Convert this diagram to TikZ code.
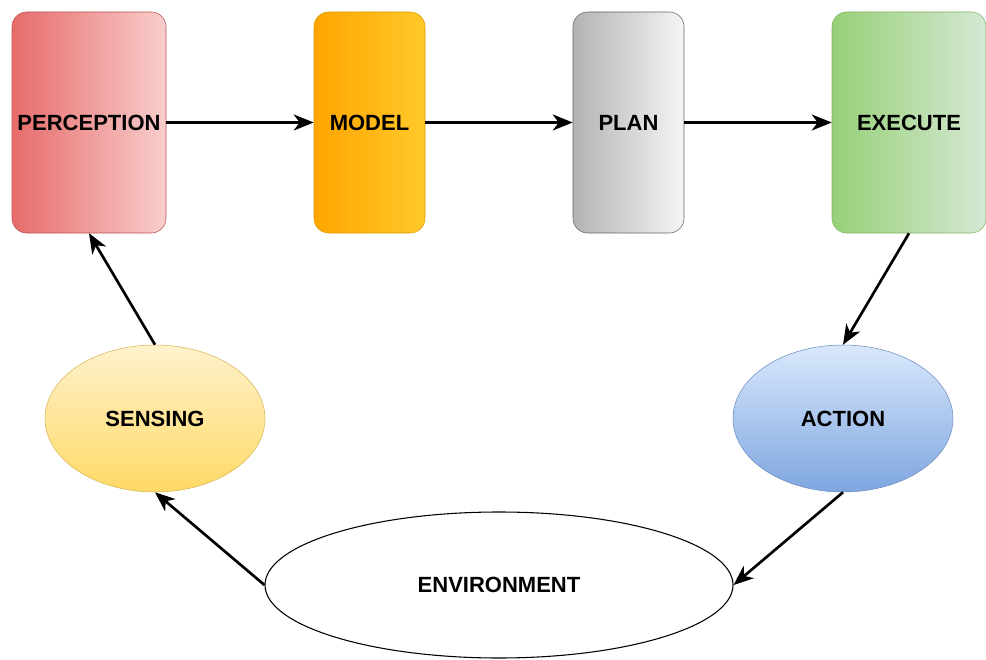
\documentclass[tikz,border=0pt]{standalone}
\usepackage{fontspec}
\setmainfont{Liberation Sans}
\usepackage{tikz}
\usetikzlibrary{arrows.meta}
\usetikzlibrary{shapes.geometric}
\definecolor{redline}{HTML}{B85450}
\definecolor{redleft}{HTML}{E76B6B}
\definecolor{redright}{HTML}{F8CECC}
\definecolor{orangeline}{HTML}{D79B00}
\definecolor{orangeleft}{HTML}{FFA500}
\definecolor{orangeright}{HTML}{FFC929}
\definecolor{grayline}{HTML}{666666}
\definecolor{grayleft}{HTML}{B3B3B3}
\definecolor{grayright}{HTML}{F5F5F5}
\definecolor{greenline}{HTML}{82B366}
\definecolor{greenleft}{HTML}{97D077}
\definecolor{greenright}{HTML}{D5E8D4}
\definecolor{yellowline}{HTML}{D6B656}
\definecolor{yellowtop}{HTML}{FFF2CC}
\definecolor{yellowbottom}{HTML}{FFD966}
\definecolor{blueline}{HTML}{6C8EBF}
\definecolor{bluetop}{HTML}{DAE8FC}
\definecolor{bluebottom}{HTML}{7EA6E0}
\tikzset{>={Stealth[length=15pt,width=12pt,inset=4.5pt]}}
\tikzstyle{stage} = [rectangle, rounded corners=11pt, minimum height=165.75pt, inner sep=0pt, text depth=-2pt, font=\fontsize{16.5}{18}\selectfont\bfseries]
\tikzstyle{state} = [ellipse, inner sep=0pt, text depth=-2pt, font=\fontsize{16.5}{18}\selectfont\bfseries]
\tikzstyle{flow} = [->, line width=2pt, draw=black]

\begin{document}
\begin{tikzpicture}[x=0.75pt, y=-0.75pt]
\useasboundingbox (0,0) rectangle (986,660);
\node [stage, minimum width=115.5pt, draw=redline, left color=redleft, right color=redright] (PER) at (89, 122.5) {PERCEPTION};
\node [stage, minimum width=83.25pt, draw=orangeline, left color=orangeleft, right color=orangeright] (MOD) at (369.5, 122.5) {MODEL};
\node [stage, minimum width=83.25pt, draw=grayline, left color=grayleft, right color=grayright] (PLN) at (628.5, 122.5) {PLAN};
\node [stage, minimum width=115.5pt, draw=greenline, left color=greenleft, right color=greenright] (EXE) at (909, 122.5) {EXECUTE};
\node [state, minimum width=165pt, minimum height=110.25pt, draw=yellowline, top color=yellowtop, bottom color=yellowbottom] (SEN) at (155, 418.5) {SENSING};
\node [state, minimum width=165pt, minimum height=110.25pt, draw=blueline, top color=bluetop, bottom color=bluebottom] (ACT) at (843, 418.5) {ACTION};
\node [state, minimum width=351pt, minimum height=109.5pt, draw=black, fill=white, thick] (ENV) at (499, 585) {ENVIRONMENT};
\draw [flow] (PER) -- (MOD);
\draw [flow] (MOD) -- (PLN);
\draw [flow] (PLN) -- (EXE);
\draw [flow] (EXE.south) -- (ACT.north);
\draw [flow] (ACT.south) -- (ENV.east);
\draw [flow] (ENV.west) -- (SEN.south);
\draw [flow] (SEN.north) -- (PER.south);
\end{tikzpicture}
\end{document}
